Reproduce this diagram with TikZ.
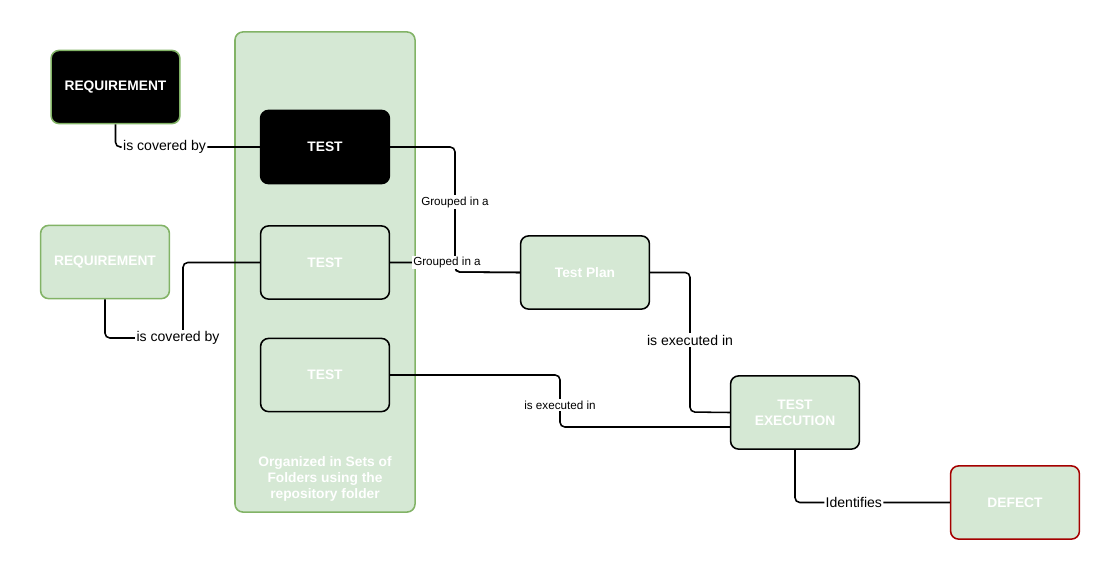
\documentclass[tikz,border=0pt]{standalone}
\usepackage{fontspec}
\setmainfont{Liberation Sans}
\usepackage{tikz}
\usetikzlibrary{positioning}
\definecolor{FolderFill}{HTML}{D5E8D4}
\definecolor{FolderLine}{HTML}{82B366}
\definecolor{DefectRed}{HTML}{A50000}

\begin{document}
\begin{tikzpicture}[x=0.025cm,y=-0.025cm]
\tikzstyle{box}=[rectangle,rounded corners=0.2cm,line width=1.1pt,draw=black,fill=FolderFill,
                 minimum width=3.22cm,minimum height=1.83cm,align=center,
                 text=white,font=\bfseries\fontsize{9.8}{11.4}\selectfont]
\tikzstyle{darkbox}=[box,fill=black]
\tikzstyle{link}=[line width=1.1pt,rounded corners=0.12cm]
\tikzstyle{lbl}=[fill=white,inner sep=1pt,font=\fontsize{10}{12}\selectfont]
\tikzstyle{smalllbl}=[fill=white,inner sep=1pt,font=\fontsize{8.3}{10}\selectfont]
\useasboundingbox (0,0) rectangle (1105,560);
% folder container
\node[box,draw=FolderLine,minimum width=4.5cm,minimum height=12cm] (folder) at (325,272) {};
\node[text=white,font=\bfseries\fontsize{9.8}{11.4}\selectfont,align=center] (foldertxt) at (325,479)
  {Organized in Sets of\\Folders using the\\repository folder};
% nodes
\node[darkbox,draw=FolderLine] (req1) at (115.5,87) {REQUIREMENT};
\node[darkbox] (test1) at (325,147) {TEST};
\node[box,draw=FolderLine] (req2) at (105,262) {REQUIREMENT};
\node[box] (test2) at (325,262.5) {TEST};
\node[box] (test3) at (325,375) {TEST};
\node[box] (plan) at (585,272.5) {Test Plan};
\node[box] (exec) at (795,412.5) {TEST\\EXECUTION};
\node[box,draw=DefectRed] (defect) at (1015,502.5) {DEFECT};
\coordinate (execlow) at (730,427);
% connectors
\draw[link] (req1.south) |- node[lbl,pos=0.67]{is covered by} (test1.west);
\draw[link] (req2.south) |- (183,338) |- (test2.west);
\node[lbl] (cov2) at (178,338) {is covered by};
\draw[link] (test1.east) -| (455,272) -- (plan.west);
\node[smalllbl] (grp1) at (455,202) {Grouped in a};
\draw[link] (test2.east) -- (455,262.5) -- (455,272) -- (plan.west);
\node[smalllbl] (grp2) at (447,262.5) {Grouped in a};
\draw[link] (plan.east) -| (690,412) -- (exec.west);
\node[lbl] (ex1) at (690,340) {is executed in};
\draw[link] (test3.east) -| (560,427) -- (execlow);
\node[smalllbl] (ex2) at (560,405) {is executed in};
\draw[link] (exec.south) |- node[lbl,pos=0.69]{Identifies} (defect.west);
\end{tikzpicture}
\end{document}
